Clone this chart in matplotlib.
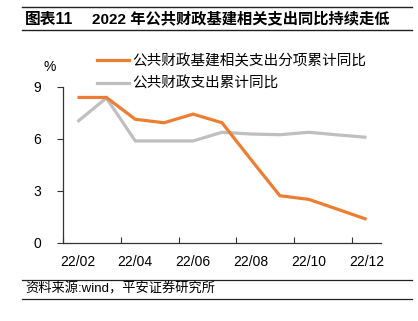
import matplotlib
matplotlib.use("Agg")
import matplotlib.pyplot as plt
from matplotlib.lines import Line2D

plt.rcParams['font.family'] = ['Liberation Sans', 'Noto Sans CJK SC', 'DejaVu Sans']

months = ["22/02", "22/03", "22/04", "22/05", "22/06", "22/07",
          "22/08", "22/09", "22/10", "22/11", "22/12"]
infra_yoy = [8.38, 8.38, 7.12, 6.92, 7.42, 6.92, 4.80, 2.71, 2.50, 1.93, 1.35]
total_yoy = [6.98, 8.35, 5.87, 5.87, 5.87, 6.37, 6.27, 6.23, 6.37, 6.22, 6.08]
yticks = [0, 3, 6, 9]
series_names = ["公共财政基建相关支出分项累计同比", "公共财政支出累计同比"]
title_num = "图表11"
title = "2022 年公共财政基建相关支出同比持续走低"
source = "资料来源:wind，平安证券研究所"

ORANGE = "#ED7D31"
GRAY = "#BFBFBF"

fig = plt.figure(figsize=(4.18, 3.21), dpi=100)
ax = fig.add_axes([63/418, 1-242.7/321, (381-63)/418, (242.7-86.7)/321])

x = list(range(len(months)))
ax.plot(x, total_yoy, color=GRAY, lw=2.3, solid_capstyle='butt', solid_joinstyle='miter', zorder=2)
ax.plot(x, infra_yoy, color=ORANGE, lw=2.3, solid_capstyle='butt', solid_joinstyle='miter', zorder=3)

ax.set_xlim(-0.5, len(months) - 0.5)
ax.set_ylim(0, 9)
ax.set_yticks(yticks)
ax.set_yticklabels([str(v) for v in yticks], fontsize=10)

# tick marks at category boundaries, labels at category centres
ax.set_xticks([i - 0.5 for i in range(0, len(months), 2)])
ax.set_xticklabels([])
ax.set_xticks(list(range(0, len(months), 2)), minor=True)
ax.set_xticklabels(months[::2], minor=True, fontsize=10)
ax.tick_params(axis='x', which='minor', length=0, pad=9)
ax.tick_params(axis='x', which='major', length=4, direction='in', width=0.8, color='#333333')
ax.tick_params(axis='y', length=4, direction='out', width=0.8, pad=12, color='#333333')

for s in ['top', 'right']:
    ax.spines[s].set_visible(False)
for s in ['left', 'bottom']:
    ax.spines[s].set_color('#333333')
    ax.spines[s].set_linewidth(0.9)

# percent label
fig.text(50/418, 1-67/321, "%", fontsize=10, ha='center', va='center')

# legend
leg_handles = [Line2D([], [], color=ORANGE, lw=2.3), Line2D([], [], color=GRAY, lw=2.3)]
fig.legend(leg_handles, series_names, loc='upper left', bbox_to_anchor=(97/418, 1-54/321),
           frameon=False, fontsize=10.5, handlelength=2.2, handletextpad=0.2,
           labelspacing=0.6, borderaxespad=0, borderpad=0)

# title with rules
fig.add_artist(Line2D([22/418, 412/418], [1-6.7/321, 1-6.7/321], color='#222222', lw=1.0))
fig.add_artist(Line2D([22/418, 412/418], [1-30/321, 1-30/321], color='#222222', lw=1.0))
fig.text(25/418, 1-19/321, title_num, fontsize=11.3, fontweight='bold', ha='left', va='center')
fig.text(92/418, 1-19/321, title, fontsize=11, fontweight='bold', ha='left', va='center')

# footer
fig.add_artist(Line2D([22/418, 412/418], [1-280/321, 1-280/321], color='#222222', lw=0.9))
fig.add_artist(Line2D([22/418, 412/418], [1-298.5/321, 1-298.5/321], color='#222222', lw=0.9))
fig.text(25/418, 1-289.5/321, source, fontsize=9.5, ha='left', va='center')

fig.savefig("out.png", dpi=100)
